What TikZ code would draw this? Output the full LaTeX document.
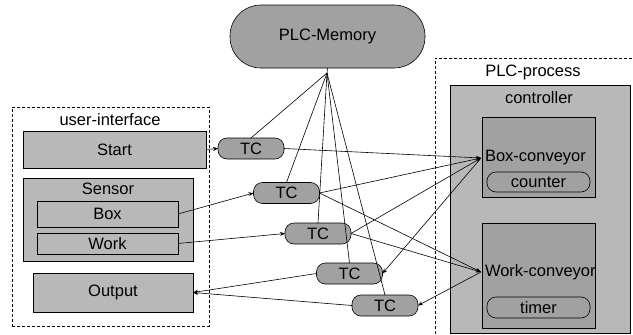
\documentclass[tikz,border=0pt]{standalone}
\usepackage{fontspec}
\setmainfont{Liberation Sans}
\usetikzlibrary{arrows.meta}
\begin{document}
\begin{tikzpicture}[x=1pt,y=-1pt,
  font=\fontsize{16.5}{18}\selectfont,
  every node/.style={inner sep=0pt, outer sep=0pt},
  container/.style={draw=black, densely dashed, line width=0.6pt, fill=white},
  lightbox/.style={draw=black, line width=0.6pt, fill=black!28},
  darkbox/.style={draw=black, line width=0.6pt, fill=black!37},
  pill/.style={draw=black, line width=0.6pt, fill=black!37, rounded corners=9pt},
  tcpill/.style={pill, minimum width=66pt, minimum height=21pt},
  link/.style={line width=0.6pt},
  arr/.style={link, -{Stealth[length=5pt,width=4pt]}}
]
\useasboundingbox (0,0) rectangle (633,335);

% shared memory
\node[darkbox, rounded corners=31pt, minimum width=195pt, minimum height=63pt] (mem) at (327.5,36.5) {PLC-Memory};

% user interface side
\node[container, minimum width=197pt, minimum height=219pt] (ui) at (110.5,216.5) {};
\node (uilab) at (110,120) {user-interface};
\node[lightbox, minimum width=183pt, minimum height=37pt] (start) at (114.5,149.5) {Start};
\node[lightbox, minimum width=170pt, minimum height=83pt] (sensor) at (108,219.5) {};
\node (senslab) at (108,189) {Sensor};
\node[lightbox, minimum width=141pt, minimum height=26pt] (box) at (107.5,214) {Box};
\node[lightbox, minimum width=141pt, minimum height=21pt] (work) at (107.5,243.5) {Work};
\node[lightbox, minimum width=160pt, minimum height=39pt] (output) at (113,292.5) {Output};

% process side
\node[container, minimum width=215pt, minimum height=292pt] (proc) at (542.5,204) {};
\node (proclab) at (533,72) {PLC-process};
\node[lightbox, minimum width=180pt, minimum height=248pt] (ctrl) at (540,209) {};
\node (ctrllab) at (539,98) {controller};
\node[darkbox, minimum width=113pt, minimum height=80pt] (bconv) at (538.5,157) {};
\node[anchor=west, inner xsep=4pt] (bclab) at (481,158) {Box-conveyor};
\node[pill, minimum width=103pt, minimum height=20pt] (counter) at (538.5,182) {counter};
\node[darkbox, minimum width=113pt, minimum height=105pt] (wconv) at (538.5,275.5) {};
\node[anchor=west, inner xsep=4pt] (wclab) at (481,272) {Work-conveyor};
\node[pill, minimum width=103pt, minimum height=21pt] (timer) at (538.5,307.5) {timer};

% transfer controllers
\node[tcpill] (tc1) at (251,148.5) {TC};
\node[tcpill] (tc2) at (286.5,193) {TC};
\node[tcpill] (tc3) at (318,233.5) {TC};
\node[tcpill] (tc4) at (349.5,273.5) {TC};
\node[tcpill] (tc5) at (385,305.5) {TC};

% memory links, meeting just below the memory
\coordinate (hub) at (327,73);
\draw[link] (mem.south) -- (hub);
\foreach \t in {tc1,tc2,tc3,tc4,tc5}
  \draw[link] (hub) -- (\t.north);

% signal flow
\draw[arr] (start.east) -- (tc1.west);
\draw[arr] (tc1.east) -- (bclab.west);
\draw[arr] (box.east) -- (tc2.west);
\draw[arr] (tc2.east) -- (bclab.west);
\draw[arr] (tc2.east) -- (wclab.west);
\draw[arr] (work.east) -- (tc3.west);
\draw[arr] (tc3.east) -- (bclab.west);
\draw[arr] (tc3.east) -- (wclab.west);
\draw[arr] (bclab.west) -- (tc4.east);
\draw[arr] (wclab.west) -- (tc5.east);
\draw[arr] (tc4.west) -- (output.east);
\draw[arr] (tc5.west) -- (output.east);
\end{tikzpicture}
\end{document}
